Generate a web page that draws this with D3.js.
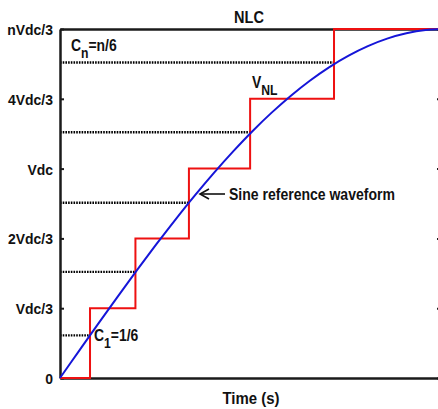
<!DOCTYPE html>
<html>
<head>
<meta charset="utf-8">
<script src="https://cdn.jsdelivr.net/npm/d3@7"></script>
<style>
  html, body { margin: 0; padding: 0; background: #fff; }
  svg { display: block; }
  text { font-family: "Liberation Sans", Arial, sans-serif; font-weight: bold; fill: #111; }
</style>
</head>
<body>
<svg id="chart" width="438" height="409"></svg>
<script>
// Voltage levels (multiples of Vdc/3) and their tick labels
const levels = [0, 1, 2, 3, 4, 5];
const levelLabels = ["0", "Vdc/3", "2Vdc/3", "Vdc", "4Vdc/3", "nVdc/3"];

// Sine reference waveform, time in ms and value in Vdc/3 units
const sineTime  = [0, 0.25, 0.5, 0.75, 1.0, 1.25, 1.5, 1.75, 2.0, 2.25, 2.5, 2.75, 3.0, 3.25, 3.5, 3.75, 4.0, 4.25, 4.5, 4.75, 5.0];
const sineValue = [0, 0.392, 0.782, 1.167, 1.545, 1.913, 2.270, 2.613, 2.939, 3.247, 3.536, 3.802, 4.045, 4.263, 4.455, 4.619, 4.755, 4.862, 4.938, 4.985, 5.0];

// Nearest-level switching instants (ms) and the comparison thresholds C1..Cn
const switchTime = [0.39, 0.98, 1.675, 2.47, 3.56];
const switchThreshold = [0.61, 1.52, 2.51, 3.52, 4.52];

const tEnd = 4.95;

const svg = d3.select("#chart");
const x = d3.scaleLinear().domain([0, tEnd]).range([60, 441]);
const y = d3.scaleLinear().domain([0, 5]).range([378, 29]);

// Condensed bold lettering: horizontal squeeze applied around the anchor point
function label(px, py, size, sx, anchor) {
  return svg.append("text")
    .attr("transform", `translate(${px},${py}) scale(${sx},1)`)
    .attr("text-anchor", anchor || "start")
    .attr("font-size", size);
}

// NLC staircase output
const stairs = [[0, 0]];
switchTime.forEach((t, i) => stairs.push([t, levels[i + 1]]));
stairs.push([tEnd, 5]);

// Dotted threshold guides from the axis to the crossing point
svg.append("g").selectAll("line")
  .data(switchTime.map((t, i) => ({ t, v: switchThreshold[i] })))
  .join("line")
  .attr("x1", x(0)).attr("x2", d => x(d.t))
  .attr("y1", d => y(d.v)).attr("y2", d => y(d.v))
  .attr("stroke", "#000").attr("stroke-width", 2.4)
  .attr("stroke-dasharray", "1.6,1.1");

// Axes frame
const axisL = svg.append("g").attr("transform", `translate(${x(0)},0)`)
  .call(d3.axisLeft(y).tickValues(levels).tickFormat((d, i) => levelLabels[i])
    .tickSizeInner(-4).tickSizeOuter(0).tickPadding(0));
const axisR = svg.append("g").attr("transform", `translate(${x(tEnd)},0)`)
  .call(d3.axisRight(y).tickValues(levels).tickFormat("")
    .tickSizeInner(-4).tickSizeOuter(0));
const axisB = svg.append("g").attr("transform", `translate(0,${y(0)})`)
  .call(d3.axisBottom(x).tickValues([]).tickSizeOuter(0));
const axisT = svg.append("g").attr("transform", `translate(0,${y(5)})`)
  .call(d3.axisTop(x).tickValues([]).tickSizeOuter(0));

[axisL, axisR, axisB, axisT].forEach(g => {
  g.select(".domain").attr("stroke", "#1a1a1a").attr("stroke-width", 2.5);
  g.selectAll(".tick line").attr("stroke", "#1a1a1a").attr("stroke-width", 2);
});
axisL.selectAll(".tick text")
  .attr("x", null).attr("dy", null)
  .attr("transform", "translate(-7,5.5) scale(0.9,1)")
  .attr("font-size", 15.5).attr("font-family", null).attr("fill", "#111");

// Staircase
svg.append("path")
  .datum(stairs)
  .attr("fill", "none").attr("stroke", "#ee1111").attr("stroke-width", 2)
  .attr("d", d3.line().x(d => x(d[0])).y(d => y(d[1])).curve(d3.curveStepAfter));

// Sine reference
svg.append("path")
  .datum(sineTime.map((t, i) => [t, sineValue[i]]))
  .attr("fill", "none").attr("stroke", "#1515d8").attr("stroke-width", 2)
  .attr("d", d3.line().x(d => x(d[0])).y(d => y(d[1])).curve(d3.curveCatmullRom));

// Titles
label(249, 22.5, 16.5, 0.88, "middle").text("NLC");
label(251, 404, 17, 0.88, "middle").text("Time (s)");

// Annotations with subscripts
function subLabel(px, py, main, sub, rest) {
  const t = label(px, py, 16, 0.87, "start");
  t.append("tspan").text(main);
  t.append("tspan").attr("dy", 7).attr("font-size", 14).text(sub);
  if (rest) t.append("tspan").attr("dy", -7).text(rest);
}
subLabel(71, 51, "C", "n", "=n/6");
subLabel(252, 88, "V", "NL", "");
subLabel(94, 341, "C", "1", "=1/6");

// Arrow to the sine reference
svg.append("line").attr("x1", 201).attr("y1", 194).attr("x2", 225).attr("y2", 194)
  .attr("stroke", "#111").attr("stroke-width", 1.6);
svg.append("path").attr("d", "M209,189 L200,194 L209,199")
  .attr("fill", "none").attr("stroke", "#111").attr("stroke-width", 1.6);
label(229, 200, 16.5, 0.85, "start").text("Sine reference waveform");
</script>
</body>
</html>
